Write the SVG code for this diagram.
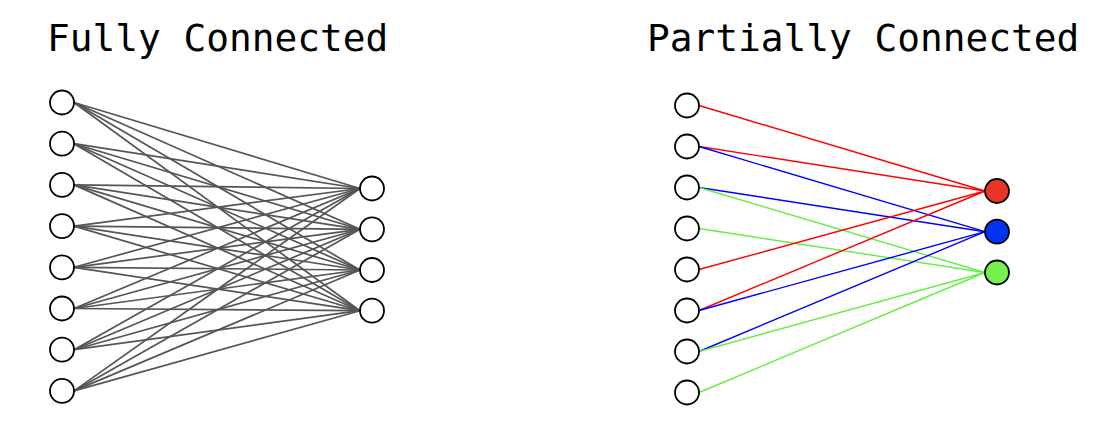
<svg xmlns="http://www.w3.org/2000/svg" width="1100" height="438" viewBox="0 0 1100 438">
<style>
.title{font-family:"DejaVu Sans Mono","Liberation Mono",monospace;font-size:37.8px;fill:#000}
.n{fill:#fff;stroke:#000;stroke-width:1.8}
.g line{stroke:#555;stroke-width:1.7}
.r{stroke:#f00;stroke-width:1.4}
.b{stroke:#00f;stroke-width:1.4}
.gr{stroke:#6e4;stroke-width:1.4}
</style>
<rect width="1100" height="438" fill="#fff"/>
<text class="title" x="47" y="50.5">Fully Connected</text>
<text class="title" x="647" y="50.5">Partially Connected</text>
<g id="connectors-full" class="g">
<line x1="74" y1="102.5" x2="360" y2="188.5"/><line x1="74" y1="102.5" x2="360" y2="229.3"/><line x1="74" y1="102.5" x2="360" y2="270"/><line x1="74" y1="102.5" x2="360" y2="310.7"/>
<line x1="74" y1="143.7" x2="360" y2="188.5"/><line x1="74" y1="143.7" x2="360" y2="229.3"/><line x1="74" y1="143.7" x2="360" y2="270"/><line x1="74" y1="143.7" x2="360" y2="310.7"/>
<line x1="74" y1="184.9" x2="360" y2="188.5"/><line x1="74" y1="184.9" x2="360" y2="229.3"/><line x1="74" y1="184.9" x2="360" y2="270"/><line x1="74" y1="184.9" x2="360" y2="310.7"/>
<line x1="74" y1="226.1" x2="360" y2="188.5"/><line x1="74" y1="226.1" x2="360" y2="229.3"/><line x1="74" y1="226.1" x2="360" y2="270"/><line x1="74" y1="226.1" x2="360" y2="310.7"/>
<line x1="74" y1="267.3" x2="360" y2="188.5"/><line x1="74" y1="267.3" x2="360" y2="229.3"/><line x1="74" y1="267.3" x2="360" y2="270"/><line x1="74" y1="267.3" x2="360" y2="310.7"/>
<line x1="74" y1="308.5" x2="360" y2="188.5"/><line x1="74" y1="308.5" x2="360" y2="229.3"/><line x1="74" y1="308.5" x2="360" y2="270"/><line x1="74" y1="308.5" x2="360" y2="310.7"/>
<line x1="74" y1="349.7" x2="360" y2="188.5"/><line x1="74" y1="349.7" x2="360" y2="229.3"/><line x1="74" y1="349.7" x2="360" y2="270"/><line x1="74" y1="349.7" x2="360" y2="310.7"/>
<line x1="74" y1="390.9" x2="360" y2="188.5"/><line x1="74" y1="390.9" x2="360" y2="229.3"/><line x1="74" y1="390.9" x2="360" y2="270"/><line x1="74" y1="390.9" x2="360" y2="310.7"/>
</g>
<g id="connectors-partial">
<line class="r" x1="699" y1="105.5" x2="985" y2="191"/>
<line class="r" x1="699" y1="146.5" x2="985" y2="191"/>
<line class="b" x1="699" y1="146.5" x2="985" y2="231.7"/>
<line class="b" x1="699" y1="187.5" x2="985" y2="231.7"/>
<line class="gr" x1="699" y1="187.5" x2="985" y2="272.5"/>
<line class="gr" x1="699" y1="228.5" x2="985" y2="272.5"/>
<line class="r" x1="699" y1="269.5" x2="985" y2="191"/>
<line class="r" x1="699" y1="310.5" x2="985" y2="191"/>
<line class="b" x1="699" y1="310.5" x2="985" y2="231.7"/>
<line class="b" x1="699" y1="351.5" x2="985" y2="231.7"/>
<line class="gr" x1="699" y1="351.5" x2="985" y2="272.5"/>
<line class="gr" x1="699" y1="392.5" x2="985" y2="272.5"/>
</g>
<g id="full-in-1"><circle class="n" cx="62" cy="102.5" r="12"/></g>
<g id="full-in-2"><circle class="n" cx="62" cy="143.7" r="12"/></g>
<g id="full-in-3"><circle class="n" cx="62" cy="184.9" r="12"/></g>
<g id="full-in-4"><circle class="n" cx="62" cy="226.1" r="12"/></g>
<g id="full-in-5"><circle class="n" cx="62" cy="267.3" r="12"/></g>
<g id="full-in-6"><circle class="n" cx="62" cy="308.5" r="12"/></g>
<g id="full-in-7"><circle class="n" cx="62" cy="349.7" r="12"/></g>
<g id="full-in-8"><circle class="n" cx="62" cy="390.9" r="12"/></g>
<g id="full-out-1"><circle class="n" cx="372" cy="188.5" r="12"/></g>
<g id="full-out-2"><circle class="n" cx="372" cy="229.3" r="12"/></g>
<g id="full-out-3"><circle class="n" cx="372" cy="270" r="12"/></g>
<g id="full-out-4"><circle class="n" cx="372" cy="310.7" r="12"/></g>
<g id="part-in-1"><circle class="n" cx="687" cy="105.5" r="12"/></g>
<g id="part-in-2"><circle class="n" cx="687" cy="146.5" r="12"/></g>
<g id="part-in-3"><circle class="n" cx="687" cy="187.5" r="12"/></g>
<g id="part-in-4"><circle class="n" cx="687" cy="228.5" r="12"/></g>
<g id="part-in-5"><circle class="n" cx="687" cy="269.5" r="12"/></g>
<g id="part-in-6"><circle class="n" cx="687" cy="310.5" r="12"/></g>
<g id="part-in-7"><circle class="n" cx="687" cy="351.5" r="12"/></g>
<g id="part-in-8"><circle class="n" cx="687" cy="392.5" r="12"/></g>
<g id="part-out-red"><circle class="n" style="fill:#e93528" cx="997" cy="191" r="12"/></g>
<g id="part-out-blue"><circle class="n" style="fill:#0032f0" cx="997" cy="231.7" r="12"/></g>
<g id="part-out-green"><circle class="n" style="fill:#75f04f" cx="997" cy="272.5" r="12"/></g>
</svg>
